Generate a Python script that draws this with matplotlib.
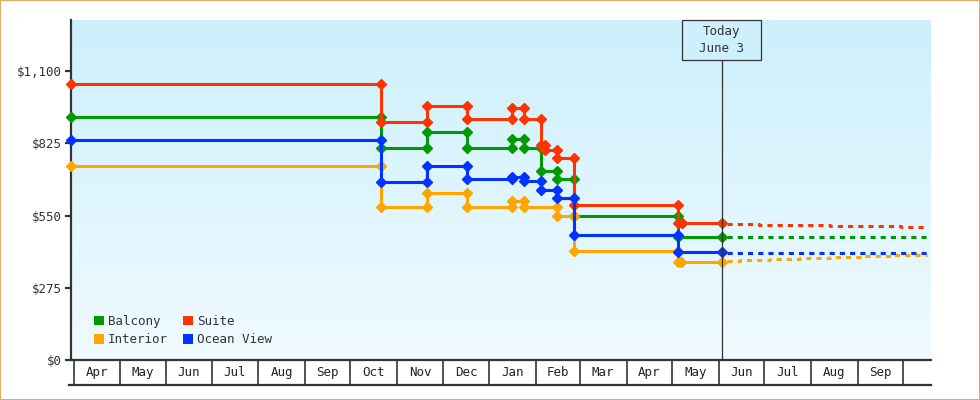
import datetime as dt

import numpy as np
import matplotlib
matplotlib.use('Agg')
import matplotlib.pyplot as plt
import matplotlib.dates as mdates
from matplotlib.colors import LinearSegmentedColormap
from matplotlib.patches import Patch, Rectangle
from matplotlib.transforms import blended_transform_factory

plt.rcParams['font.family'] = 'DejaVu Sans Mono'

# price history (date the price took effect, price)
suite_dates = ['2023-03-30', '2023-10-21', '2023-11-21', '2023-12-17', '2024-01-16', '2024-01-24',
               '2024-02-04', '2024-02-07', '2024-02-15', '2024-02-26', '2024-05-05', '2024-05-08']
suite_prices = [1050, 907, 967, 917, 961, 917, 817, 798, 768, 590, 521, 521]

balcony_dates = ['2023-03-30', '2023-10-21', '2023-11-21', '2023-12-17', '2024-01-16', '2024-01-24',
                 '2024-02-04', '2024-02-15', '2024-02-26', '2024-05-05']
balcony_prices = [927, 807, 868, 807, 841, 807, 721, 689, 547, 470]

ocean_dates = ['2023-03-30', '2023-10-21', '2023-11-21', '2023-12-17', '2024-01-16', '2024-01-24',
               '2024-02-04', '2024-02-15', '2024-02-26', '2024-05-05']
ocean_prices = [837, 677, 740, 689, 697, 680, 647, 617, 477, 410]

interior_dates = ['2023-03-30', '2023-10-21', '2023-11-21', '2023-12-17', '2024-01-16', '2024-01-24',
                  '2024-02-15', '2024-02-26', '2024-05-05', '2024-05-07']
interior_prices = [738, 581, 636, 581, 604, 581, 550, 415, 375, 375]

# forecast after today
suite_fc_dates = ['2024-06-03', '2024-06-28', '2024-08-14', '2024-09-30', '2024-10-17']
suite_fc_prices = [519, 515, 511, 507, 507]
balcony_fc_dates = ['2024-06-03', '2024-10-17']
balcony_fc_prices = [470, 470]
ocean_fc_dates = ['2024-06-03', '2024-10-17']
ocean_fc_prices = [408, 408]
interior_fc_dates = ['2024-06-03', '2024-06-15', '2024-07-05', '2024-07-25', '2024-08-14',
                     '2024-09-03', '2024-09-23', '2024-10-17']
interior_fc_prices = [378, 382, 386, 390, 393, 397, 400, 400]

today = '2024-06-03'
month_labels = ['Apr', 'May', 'Jun', 'Jul', 'Aug', 'Sep', 'Oct', 'Nov', 'Dec',
                'Jan', 'Feb', 'Mar', 'Apr', 'May', 'Jun', 'Jul', 'Aug', 'Sep']
y_ticks = [0, 275, 550, 825, 1100]
y_ticklabels = ['$0', '$275', '$550', '$825', '$1,100']


def to_num(d):
  return mdates.date2num(dt.datetime.strptime(d, '%Y-%m-%d'))


def step_points(dates, prices, end):
  xs = [to_num(dates[0])]
  ys = [prices[0]]
  for i in range(1, len(dates)):
    x = to_num(dates[i])
    xs += [x, x]
    ys += [prices[i - 1], prices[i]]
  xs.append(to_num(end))
  ys.append(prices[-1])
  return xs, ys


series = [
  ('Balcony', '#009900', balcony_dates, balcony_prices, balcony_fc_dates, balcony_fc_prices),
  ('Interior', '#ffa500', interior_dates, interior_prices, interior_fc_dates, interior_fc_prices),
  ('Suite', '#ff3300', suite_dates, suite_prices, suite_fc_dates, suite_fc_prices),
  ('Ocean View', '#0033ff', ocean_dates, ocean_prices, ocean_fc_dates, ocean_fc_prices),
]

fig = plt.figure(figsize=(9.8, 4), dpi=100)
W, H = 980.0, 400.0
ax = fig.add_axes([71 / W, 40 / H, 860 / W, 340 / H])

x0 = to_num('2023-03-30') - 0.2
x1 = to_num('2024-10-19') + 0.7
y0, y1 = 0, 1295
ax.set_xlim(x0, x1)
ax.set_ylim(y0, y1)

grad = LinearSegmentedColormap.from_list('bg', ['#ccf0fc', '#f0faff'])
ax.imshow(np.linspace(0, 1, 256).reshape(-1, 1), cmap=grad, aspect='auto',
          extent=[x0, x1, y0, y1], zorder=0)

for name, color, d, p, fd, fp in series:
  xs, ys = step_points(d, p, today)
  ax.plot(xs, ys, color=color, lw=2.2, marker='D', ms=5.5, zorder=3,
          solid_joinstyle='miter', clip_on=False)
  fxs = [to_num(v) for v in fd]
  ax.plot(fxs, fp, color=color, lw=2.2, drawstyle='steps-post',
          linestyle=(1.67, (1.67, 1.67)), dash_capstyle='butt', zorder=3)

# today marker
tn = to_num(today)
ax.axvline(tn, ymin=0, ymax=300 / 340, color='#333333', lw=0.9, zorder=4)
trans = blended_transform_factory(ax.transData, ax.transAxes)
ax.add_patch(Rectangle((tn - 26.3, 300 / 340), 52.6, 40 / 340, transform=trans,
                       facecolor='#cdf0fc', edgecolor='#333333', lw=0.9, zorder=5,
                       clip_on=False))
ax.text(tn, 320 / 340, 'Today\nJune 3', transform=trans, ha='center', va='center',
        fontsize=9, color='#333333', linespacing=1.35, zorder=6)

for s in ['top', 'right']:
  ax.spines[s].set_visible(False)
for s in ['left', 'bottom']:
  ax.spines[s].set_color('#333333')
  ax.spines[s].set_linewidth(1.6)
  ax.spines[s].set_zorder(2.5)
ax.set_xticks([])
ax.set_yticks(y_ticks)
ax.set_yticklabels(y_ticklabels)
ax.tick_params(axis='y', direction='out', length=4.5, width=1.6, color='#333333',
               labelsize=9, labelcolor='#333333', pad=2)

handles = [Patch(facecolor=c, edgecolor='none', label=n) for n, c, *_ in series]
ax.legend(handles=handles, ncol=2, loc='lower left', bbox_to_anchor=(0.02, 0.022),
          frameon=False, fontsize=9, handlelength=0.8, handleheight=0.8,
          handletextpad=0.3, columnspacing=1.2, labelspacing=0.45, borderpad=0,
          labelcolor='#333333')

# month strip
ax2 = fig.add_axes([71 / W, 15 / H, 860 / W, 25 / H])
ax2.set_xlim(x0, x1)
ax2.set_ylim(0, 1)
ax2.axis('off')
starts = []
y, m = 2023, 4
for i in range(len(month_labels) + 1):
  starts.append(mdates.date2num(dt.datetime(y, m, 1)))
  m += 1
  if m > 12:
    m, y = 1, y + 1
for s in starts:
  ax2.plot([s, s], [0, 1], color='#333333', lw=1.2, clip_on=False)
ax2.plot([x0 - 1, x1], [0, 0], color='#333333', lw=1.6, clip_on=False)
for i, lab in enumerate(month_labels):
  ax2.text((starts[i] + starts[i + 1]) / 2, 0.5, lab, ha='center', va='center',
           fontsize=9, color='#222222')

fig.patches.append(Rectangle((0, 0), 1, 1, transform=fig.transFigure, fill=False,
                             edgecolor='#e8aa66', lw=1.5))

fig.savefig('out.png', dpi=100)
